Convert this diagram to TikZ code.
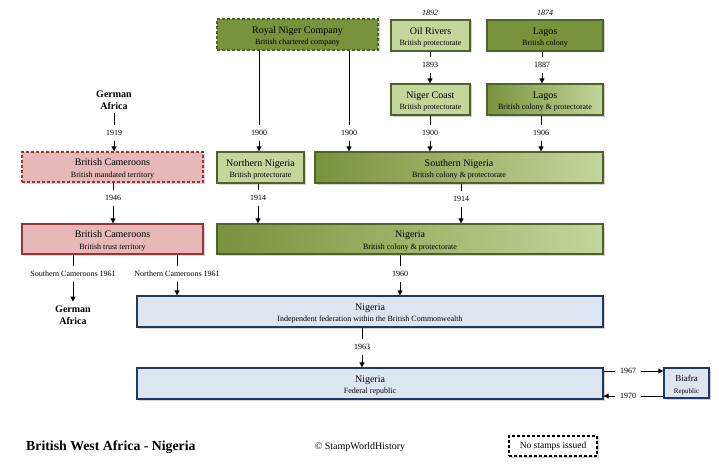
\documentclass[tikz,border=0pt]{standalone}
\usepackage{fontspec}
\setmainfont{Liberation Serif}
\usetikzlibrary{arrows.meta,shadows}
\definecolor{dkgreen}{HTML}{77933C}
\definecolor{ltgreen}{HTML}{C3D69B}
\definecolor{grborder}{HTML}{4F6228}
\definecolor{pinkfill}{HTML}{E6B9B8}
\definecolor{pinkborder}{HTML}{943634}
\definecolor{bluefill}{HTML}{DCE6F2}
\definecolor{blueborder}{HTML}{1F3864}
\newcommand\twol[2]{{\fontsize{10}{11.5}\selectfont\rule{0pt}{11pt}#1}\\{\fontsize{8}{11.5}\selectfont #2}}
\tikzset{
  basebox/.style={draw, line width=1.3pt, inner sep=0pt, align=center,
     font=\fontsize{8}{11.5}\selectfont,
     drop shadow={shadow xshift=1.5pt, shadow yshift=-1.5pt, opacity=0.35}},
  dkbox/.style={basebox, fill=dkgreen, draw=grborder},
  ltbox/.style={basebox, fill=ltgreen, draw=grborder},
  gradbox/.style={basebox, draw=grborder, left color=dkgreen, right color=ltgreen},
  pinkbox/.style={basebox, fill=pinkfill, draw=pinkborder},
  bluebox/.style={basebox, fill=bluefill, draw=blueborder},
  dashedge/.style={dash pattern=on 3pt off 2pt},
  yr/.style={font=\fontsize{8}{9.5}\selectfont, inner sep=2pt, outer sep=3pt},
  yrit/.style={font=\fontsize{8}{9.5}\selectfont\itshape, inner sep=1pt},
  germ/.style={font=\fontsize{10}{12}\selectfont\bfseries, align=center, inner sep=1pt, outer sep=3pt},
  conn/.style={line width=1pt, black},
  arr/.style={conn, -{Triangle[width=5pt,length=5pt]}},
}
\begin{document}
\begin{tikzpicture}[x=1pt,y=-1pt]
\useasboundingbox (0,0) rectangle (719,468);
% boxes
\node[dkbox, dashedge, minimum width=161pt, minimum height=31pt] (rnc) at (297.5,34.5) {\twol{Royal Niger Company}{British chartered company}};
\node[ltbox, minimum width=79pt, minimum height=31pt] (oil) at (430.5,35.5) {\twol{Oil Rivers}{British protectorate}};
\node[dkbox, minimum width=116pt, minimum height=31pt] (lagosa) at (545,35.5) {\twol{Lagos}{British colony}};
\node[ltbox, minimum width=79pt, minimum height=31pt] (ncoast) at (430.5,99.5) {\twol{Niger Coast}{British protectorate}};
\node[gradbox, minimum width=116pt, minimum height=31pt] (lagosb) at (545,99.5) {\twol{Lagos}{British colony \& protectorate}};
\node[pinkbox, dashedge, minimum width=181pt, minimum height=30pt] (bcama) at (112.5,167) {\twol{British Cameroons}{British mandated territory}};
\node[ltbox, minimum width=87pt, minimum height=31pt] (nn) at (260.5,167.5) {\twol{Northern Nigeria}{British protectorate}};
\node[gradbox, minimum width=288pt, minimum height=31pt] (sn) at (459,167.5) {\twol{Southern Nigeria}{British colony \& protectorate}};
\node[pinkbox, minimum width=181pt, minimum height=30pt] (bcamb) at (112.5,239) {\twol{British Cameroons}{British trust territory}};
\node[gradbox, minimum width=386pt, minimum height=30pt] (niga) at (410,239) {\twol{Nigeria}{British colony \& protectorate}};
\node[bluebox, minimum width=466pt, minimum height=31pt] (nigb) at (370,311.5) {\twol{Nigeria}{Independent federation within the British Commonwealth}};
\node[bluebox, minimum width=466pt, minimum height=31pt] (nigc) at (370,383.5) {\twol{Nigeria}{Federal republic}};
\node[bluebox, minimum width=45pt, minimum height=30pt] (biafra) at (686.5,383) {{\fontsize{9}{10}\selectfont\rule{0pt}{10pt}Biafra}\\{\fontsize{7}{10}\selectfont Republic}};
\node[basebox, fill=white, draw=black, line width=1.1pt, dashedge, minimum width=88pt, minimum height=20pt, font=\fontsize{9.5}{11}\selectfont] (nostamps) at (553,446) {No stamps issued};
% labels
\node[yrit] (y1892) at (430,13) {1892};
\node[yrit] (y1874) at (545,13) {1874};
\node[yr] (l1893) at (430,65) {1893};
\node[yr] (l1887) at (542,65) {1887};
\node[yr] (l1900a) at (259,133) {1900};
\node[yr] (l1900b) at (349,133) {1900};
\node[yr] (l1900c) at (430,133) {1900};
\node[yr] (l1906) at (541,133) {1906};
\node[germ] (germa) at (114,100) {German\\Africa};
\node[yr] (l1919) at (114,133) {1919};
\node[yr] (l1946) at (113,198) {1946};
\node[yr] (l1914a) at (258,198) {1914};
\node[yr] (l1914b) at (461,199) {1914};
\node[yr] (lsc) at (73,274) {Southern Cameroons 1961};
\node[yr] (lnc) at (177,274) {Northern Cameroons 1961};
\node[yr] (l1960) at (400,274) {1960};
\node[germ] (germb) at (73,315) {German\\Africa};
\node[yr] (l1963) at (362,347) {1963};
\node[yr] (l1967) at (628,371) {1967};
\node[yr] (l1970) at (628,396) {1970};
\node[font=\fontsize{13.8}{15}\selectfont\bfseries, anchor=west, inner sep=0pt] (title) at (26,447) {British West Africa - Nigeria};
\node[font=\fontsize{10}{11}\selectfont, inner sep=0pt] (copy) at (360,447) {\textcopyright{} StampWorldHistory};
% connectors
\draw[conn] (l1893 |- oil.south) -- (l1893);
\draw[arr] (l1893) -- (l1893 |- ncoast.north);
\draw[conn] (l1887 |- lagosa.south) -- (l1887);
\draw[arr] (l1887) -- (l1887 |- lagosb.north);
\draw[conn] (l1900a |- rnc.south) -- (l1900a);
\draw[arr] (l1900a) -- (l1900a |- nn.north);
\draw[conn] (l1900b |- rnc.south) -- (l1900b);
\draw[arr] (l1900b) -- (l1900b |- sn.north);
\draw[conn] (l1900c |- ncoast.south) -- (l1900c);
\draw[arr] (l1900c) -- (l1900c |- sn.north);
\draw[conn] (l1906 |- lagosb.south) -- (l1906);
\draw[arr] (l1906) -- (l1906 |- sn.north);
\draw[conn] (l1919 |- germa.south) -- (l1919);
\draw[arr] (l1919) -- (l1919 |- bcama.north);
\draw[conn] (l1946 |- bcama.south) -- (l1946);
\draw[arr] (l1946) -- (l1946 |- bcamb.north);
\draw[conn] (l1914a |- nn.south) -- (l1914a);
\draw[arr] (l1914a) -- (l1914a |- niga.north);
\draw[conn] (l1914b |- sn.south) -- (l1914b);
\draw[arr] (l1914b) -- (l1914b |- niga.north);
\draw[conn] (lsc |- bcamb.south) -- (lsc);
\draw[arr] (lsc) -- (germb);
\draw[conn] (lnc |- bcamb.south) -- (lnc);
\draw[arr] (lnc) -- (lnc |- nigb.north);
\draw[conn] (l1960 |- niga.south) -- (l1960);
\draw[arr] (l1960) -- (l1960 |- nigb.north);
\draw[conn] (l1963 |- nigb.south) -- (l1963);
\draw[arr] (l1963) -- (l1963 |- nigc.north);
\draw[conn] (nigc.east |- l1967) -- (l1967);
\draw[arr] (l1967) -- (biafra.west |- l1967);
\draw[conn] (biafra.west |- l1970) -- (l1970);
\draw[arr] (l1970) -- (nigc.east |- l1970);
\end{tikzpicture}
\end{document}
